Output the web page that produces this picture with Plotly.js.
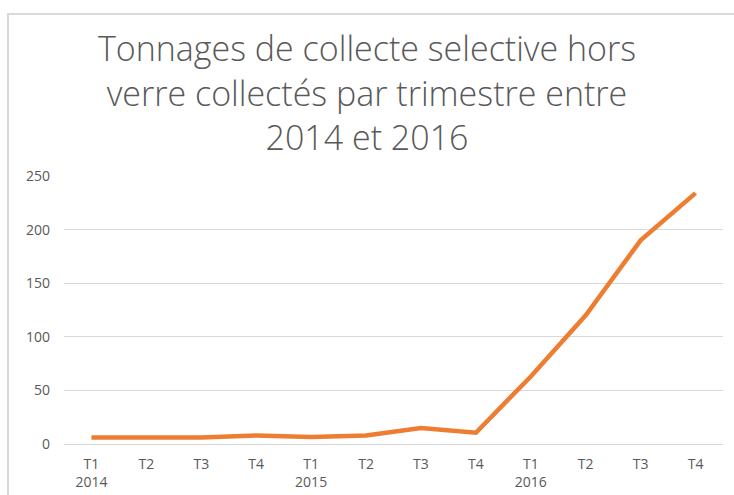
<!DOCTYPE html>
<html>
<head>
<meta charset="utf-8">
<script src="https://cdn.plot.ly/plotly-3.0.1.min.js"></script>
<style>
html,body{margin:0;padding:0;background:#fff;}
#wrap{position:relative;width:734px;height:495px;overflow:hidden;}
#chart{width:734px;height:495px;}
#frame{position:absolute;left:7px;top:13px;width:800px;height:600px;border-left:2px solid #d9d9d9;border-top:2px solid #d9d9d9;pointer-events:none;}
</style>
</head>
<body>
<div id="wrap"><div id="chart"></div><div id="frame"></div></div>
<script>
const quarters = ["T1","T2","T3","T4","T1","T2","T3","T4","T1","T2","T3","T4"];
const years = ["2014","","","","2015","","","","2016","","",""];
const tonnages = [6, 6, 6, 8, 6.5, 8, 15, 10.5, 63, 120, 190, 234];
const yTicks = [0, 50, 100, 150, 200, 250];

const idx = quarters.map((q, i) => i);
const tickText = quarters.map((q, i) => years[i] ? q + "<br>" + years[i] : q);

const trace = {
  x: idx,
  y: tonnages,
  type: "scatter",
  mode: "lines",
  line: {color: "#ED7D31", width: 4.5, shape: "linear"},
  hoverinfo: "skip"
};

const layout = {
  width: 734,
  height: 495,
  margin: {l: 64, r: 11, t: 176, b: 51},
  paper_bgcolor: "#ffffff",
  plot_bgcolor: "#ffffff",
  showlegend: false,
  font: {family: "Open Sans, sans-serif", color: "#595959"},
  title: {
    text: "Tonnages de collecte selective hors<br>verre collectés par trimestre entre<br>2014 et 2016",
    font: {family: "Open Sans, sans-serif", size: 34, color: "#595959", weight: 300},
    x: 0.5, xanchor: "center",
    y: 0.876, yanchor: "top", yref: "container"
  },
  xaxis: {
    range: [-0.5, 11.5],
    tickmode: "array",
    tickvals: idx,
    ticktext: tickText,
    showgrid: false,
    zeroline: false,
    showline: true,
    linecolor: "#d9d9d9",
    linewidth: 1,
    ticks: "",
    ticklabelstandoff: 7,
    tickfont: {size: 14, color: "#595959"},
    fixedrange: true
  },
  yaxis: {
    range: [0, 250],
    tickmode: "array",
    tickvals: yTicks,
    ticktext: yTicks.map(String),
    showgrid: true,
    gridcolor: "#d9d9d9",
    gridwidth: 1,
    zeroline: false,
    showline: false,
    ticks: "",
    ticklabelstandoff: 13,
    tickfont: {size: 14, color: "#595959"},
    fixedrange: true
  }
};

Plotly.newPlot("chart", [trace], layout, {displayModeBar: false, staticPlot: true});
</script>
</body>
</html>
